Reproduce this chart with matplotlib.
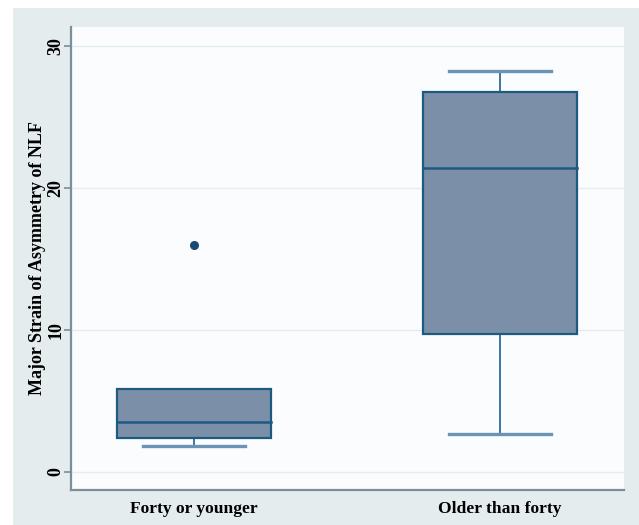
import matplotlib
matplotlib.use("Agg")
import matplotlib.pyplot as plt
from matplotlib.patches import Rectangle

# Box summary statistics per age group
categories = ["Forty or younger", "Older than forty"]
lower_whisker = [1.83, 2.68]
q1 = [2.39, 9.72]
median = [3.52, 21.4]
q3 = [5.85, 26.76]
upper_whisker = [5.85, 28.24]
outliers = [[16.0], []]
yticks = [0, 10, 20, 30]

plt.rcParams['font.family'] = ['Liberation Serif', 'DejaVu Serif']

W, H = 639, 525
fig = plt.figure(figsize=(W / 100, H / 100), dpi=100)
fig.patch.set_facecolor("white")

# graph region background
bg = fig.add_axes([13 / W, 0, 1 - 13 / W, 1 - 8 / H])
bg.set_facecolor("#e4ecee")
bg.set_xticks([]); bg.set_yticks([])
for s in bg.spines.values():
    s.set_visible(False)
bg.set_zorder(-1)

left, right, top, bottom = 71, 624, 27, 490
ax = fig.add_axes([left / W, 1 - bottom / H, (right - left) / W, (bottom - top) / H])
ax.set_facecolor("#fbfcfd")

positions = [1, 2]
box_w = 0.503
cap_w = 0.336
fill = "#7b90a8"
edge = "#1d5a82"
whisk = "#3f74a0"

for i, p in enumerate(positions):
    ax.add_patch(Rectangle((p - box_w / 2, q1[i]), box_w, q3[i] - q1[i],
                           facecolor=fill, edgecolor=edge, linewidth=1.6, zorder=3))
    ax.plot([p - box_w / 2, p + box_w / 2], [median[i], median[i]],
            color=edge, linewidth=1.8, zorder=4)
    if lower_whisker[i] < q1[i]:
        ax.plot([p, p], [lower_whisker[i], q1[i]], color=whisk, lw=1.4, zorder=2)
        ax.plot([p - cap_w / 2, p + cap_w / 2], [lower_whisker[i]] * 2,
                color="#6b93b5", lw=2.4, zorder=2)
    if upper_whisker[i] > q3[i]:
        ax.plot([p, p], [q3[i], upper_whisker[i]], color=whisk, lw=1.4, zorder=2)
        ax.plot([p - cap_w / 2, p + cap_w / 2], [upper_whisker[i]] * 2,
                color="#6b93b5", lw=2.4, zorder=2)
    for o in outliers[i]:
        ax.plot(p, o, 'o', color="#1a4a72", markersize=5.5, zorder=5)

ax.set_xlim(0.598, 2.405)
ax.set_ylim(-1.27, 31.34)

ax.set_yticks(yticks)
ax.set_yticklabels([str(t) for t in yticks], rotation=90, va="center",
                   fontsize=13, fontweight="bold")
for t in yticks:
    ax.axhline(t, color="#e2eef2", lw=1.0, zorder=1)

ax.set_xticks(positions)
ax.set_xticklabels(categories, fontsize=12.6, fontweight="bold")
ax.tick_params(axis="x", length=0, pad=8)
ax.tick_params(axis="y", length=5, width=1.2, color="#7a8e9c", pad=0)

ax.set_ylabel("Major Strain of Asymmetry of NLF", fontsize=13, fontweight="bold",
              labelpad=1)

for name in ["top", "right"]:
    ax.spines[name].set_visible(False)
for name in ["left", "bottom"]:
    ax.spines[name].set_color("#7a8e9c")
    ax.spines[name].set_linewidth(1.6)

fig.savefig("out.png", dpi=100)
